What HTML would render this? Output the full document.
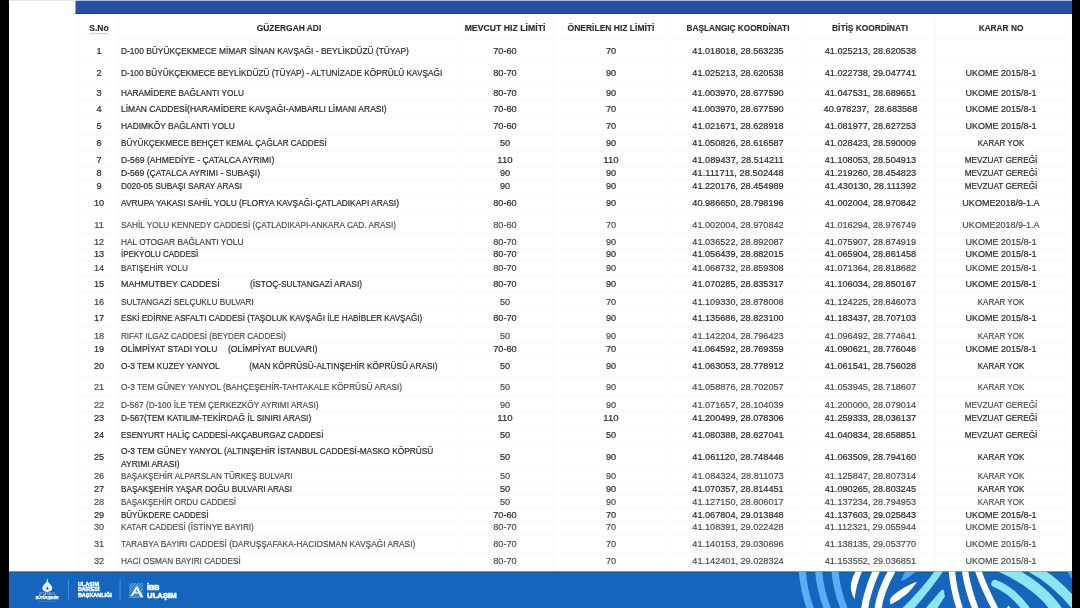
<!DOCTYPE html><html><head><meta charset="utf-8"><title>Hız Limitleri</title>
<style>html,body{margin:0;padding:0;background:#000;}body{width:1080px;height:608px;overflow:hidden;position:relative}
svg{position:absolute;left:0;top:0;display:block}
text{font-family:"Liberation Sans",sans-serif;}
.c{font-size:9.15px;fill:#2a2a2a;stroke:#2a2a2a;stroke-width:0.2px}
.l{fill:#4c4c4c;stroke:#4c4c4c;stroke-width:0.18px}
.d{fill:#3a3a3a;stroke:#3a3a3a;stroke-width:0.16px}
.h{font-size:9.15px;font-weight:bold;fill:#2e2e2e;stroke:#2e2e2e;stroke-width:0.15px}
.m{text-anchor:middle}
</style></head><body>
<svg width="1080" height="608" viewBox="0 0 1080 608">
<rect x="0" y="0" width="1080" height="608" fill="#000"/>
<rect x="9" y="0" width="1063" height="608" fill="#fff"/>
<rect x="9" y="0" width="67" height="1" fill="#e4e4e4"/>
<rect x="76" y="0" width="996" height="1" fill="#b4bcea"/>
<rect x="75.5" y="1" width="996.5" height="13" fill="#27519f"/>
<rect x="75.5" y="13" width="996.5" height="1" fill="#213f80"/>
<g stroke="#f8f9fb" stroke-width="1" fill="none">
<line x1="78.5" y1="14" x2="78.5" y2="571"/>
<line x1="118.5" y1="14" x2="118.5" y2="571"/>
<line x1="458.5" y1="14" x2="458.5" y2="571"/>
<line x1="553.5" y1="14" x2="553.5" y2="571"/>
<line x1="669.5" y1="14" x2="669.5" y2="571"/>
<line x1="805.5" y1="14" x2="805.5" y2="571"/>
<line x1="935.5" y1="14" x2="935.5" y2="571"/>
<line x1="1066.5" y1="14" x2="1066.5" y2="571"/>
<line x1="78" y1="39.5" x2="1067" y2="39.5"/>
<line x1="78" y1="61.5" x2="1067" y2="61.5"/>
<line x1="78" y1="82.5" x2="1067" y2="82.5"/>
<line x1="78" y1="100.5" x2="1067" y2="100.5"/>
<line x1="78" y1="117.5" x2="1067" y2="117.5"/>
<line x1="78" y1="134.5" x2="1067" y2="134.5"/>
<line x1="78" y1="151.5" x2="1067" y2="151.5"/>
<line x1="78" y1="166.5" x2="1067" y2="166.5"/>
<line x1="78" y1="179.5" x2="1067" y2="179.5"/>
<line x1="78" y1="194.5" x2="1067" y2="194.5"/>
<line x1="78" y1="213.5" x2="1067" y2="213.5"/>
<line x1="78" y1="233.5" x2="1067" y2="233.5"/>
<line x1="78" y1="248.5" x2="1067" y2="248.5"/>
<line x1="78" y1="260.5" x2="1067" y2="260.5"/>
<line x1="78" y1="275.5" x2="1067" y2="275.5"/>
<line x1="78" y1="292.5" x2="1067" y2="292.5"/>
<line x1="78" y1="309.5" x2="1067" y2="309.5"/>
<line x1="78" y1="327.5" x2="1067" y2="327.5"/>
<line x1="78" y1="342.5" x2="1067" y2="342.5"/>
<line x1="78" y1="357.5" x2="1067" y2="357.5"/>
<line x1="78" y1="376.5" x2="1067" y2="376.5"/>
<line x1="78" y1="395.5" x2="1067" y2="395.5"/>
<line x1="78" y1="411.5" x2="1067" y2="411.5"/>
<line x1="78" y1="426.5" x2="1067" y2="426.5"/>
<line x1="78" y1="445.5" x2="1067" y2="445.5"/>
<line x1="78" y1="466.5" x2="1067" y2="466.5"/>
<line x1="78" y1="482.5" x2="1067" y2="482.5"/>
<line x1="78" y1="495.5" x2="1067" y2="495.5"/>
<line x1="78" y1="508.5" x2="1067" y2="508.5"/>
<line x1="78" y1="520.5" x2="1067" y2="520.5"/>
<line x1="78" y1="535.5" x2="1067" y2="535.5"/>
<line x1="78" y1="552.5" x2="1067" y2="552.5"/>
</g>
<filter id="bl" x="-2%" y="-2%" width="104%" height="104%"><feGaussianBlur stdDeviation="0.5"/></filter>
<g filter="url(#bl)">
<text class="h m" x="99" y="31.25" textLength="19.48" lengthAdjust="spacingAndGlyphs" xml:space="preserve">S.No</text>
<text class="h m" x="289" y="31.25" textLength="64.46" lengthAdjust="spacingAndGlyphs" xml:space="preserve">GÜZERGAH ADI</text>
<text class="h m" x="505" y="31.25" textLength="80.74" lengthAdjust="spacingAndGlyphs" xml:space="preserve">MEVCUT HIZ LİMİTİ</text>
<text class="h m" x="611" y="31.25" textLength="86.85" lengthAdjust="spacingAndGlyphs" xml:space="preserve">ÖNERİLEN HIZ LİMİTİ</text>
<text class="h m" x="738" y="31.25" textLength="102.92" lengthAdjust="spacingAndGlyphs" xml:space="preserve">BAŞLANGIÇ KOORDİNATI</text>
<text class="h m" x="870" y="31.25" textLength="75.90" lengthAdjust="spacingAndGlyphs" xml:space="preserve">BİTİŞ KOORDİNATI</text>
<text class="h m" x="1001" y="31.25" textLength="44.69" lengthAdjust="spacingAndGlyphs" xml:space="preserve">KARAR NO</text>
<path d="M89.6 34.1 l1.2 -0.9 l1.2 0.9 l1.2 -0.9 l1.2 0.9 l1.2 -0.9 l1.2 0.9 l1.2 -0.9 l1.2 0.9 l1.2 -0.9 l1.2 0.9 l1.2 -0.9 l1.2 0.9 l1.2 -0.9 l1.2 0.9 l1.2 -0.9 l1.2 0.9" stroke="#dc8c94" stroke-width="0.7" fill="none"/>
<text class="c m" x="99" y="53.7" textLength="5.11" lengthAdjust="spacingAndGlyphs" xml:space="preserve">1</text>
<text class="c" x="121" y="53.7" textLength="287.90" lengthAdjust="spacingAndGlyphs" xml:space="preserve">D-100 BÜYÜKÇEKMECE MİMAR SİNAN KAVŞAĞI - BEYLİKDÜZÜ (TÜYAP)</text>
<text class="c m" x="505" y="53.7" textLength="23.46" lengthAdjust="spacingAndGlyphs" xml:space="preserve">70-60</text>
<text class="c m" x="611" y="53.7" textLength="10.19" lengthAdjust="spacingAndGlyphs" xml:space="preserve">70</text>
<text class="c m" x="738" y="53.7" textLength="91.36" lengthAdjust="spacingAndGlyphs" xml:space="preserve">41.018018, 28.563235</text>
<text class="c m" x="870.4" y="53.7" textLength="91.36" lengthAdjust="spacingAndGlyphs" xml:space="preserve">41.025213, 28.620538</text>
<text class="c m" x="99" y="75.85" textLength="5.11" lengthAdjust="spacingAndGlyphs" xml:space="preserve">2</text>
<text class="c" x="121" y="75.85" textLength="321.20" lengthAdjust="spacingAndGlyphs" xml:space="preserve">D-100 BÜYÜKÇEKMECE BEYLİKDÜZÜ (TÜYAP) - ALTUNİZADE KÖPRÜLÜ KAVŞAĞI</text>
<text class="c m" x="505" y="75.85" textLength="23.46" lengthAdjust="spacingAndGlyphs" xml:space="preserve">80-70</text>
<text class="c m" x="611" y="75.85" textLength="10.19" lengthAdjust="spacingAndGlyphs" xml:space="preserve">90</text>
<text class="c m" x="738" y="75.85" textLength="91.36" lengthAdjust="spacingAndGlyphs" xml:space="preserve">41.025213, 28.620538</text>
<text class="c m" x="870.4" y="75.85" textLength="91.36" lengthAdjust="spacingAndGlyphs" xml:space="preserve">41.022738, 29.047741</text>
<text class="c m" x="1001" y="75.85" textLength="71.15" lengthAdjust="spacingAndGlyphs" xml:space="preserve">UKOME 2015/8-1</text>
<text class="c m" x="99" y="95.55" textLength="5.11" lengthAdjust="spacingAndGlyphs" xml:space="preserve">3</text>
<text class="c" x="121" y="95.55" textLength="123.00" lengthAdjust="spacingAndGlyphs" xml:space="preserve">HARAMİDERE BAĞLANTI YOLU</text>
<text class="c m" x="505" y="95.55" textLength="23.46" lengthAdjust="spacingAndGlyphs" xml:space="preserve">80-70</text>
<text class="c m" x="611" y="95.55" textLength="10.19" lengthAdjust="spacingAndGlyphs" xml:space="preserve">90</text>
<text class="c m" x="738" y="95.55" textLength="91.36" lengthAdjust="spacingAndGlyphs" xml:space="preserve">41.003970, 28.677590</text>
<text class="c m" x="870.4" y="95.55" textLength="91.36" lengthAdjust="spacingAndGlyphs" xml:space="preserve">41.047531, 28.689651</text>
<text class="c m" x="1001" y="95.55" textLength="71.15" lengthAdjust="spacingAndGlyphs" xml:space="preserve">UKOME 2015/8-1</text>
<text class="c m" x="99" y="112.35" textLength="5.11" lengthAdjust="spacingAndGlyphs" xml:space="preserve">4</text>
<text class="c" x="121" y="112.35" textLength="265.70" lengthAdjust="spacingAndGlyphs" xml:space="preserve">LİMAN CADDESİ(HARAMİDERE KAVŞAĞI-AMBARLI LİMANI ARASI)</text>
<text class="c m" x="505" y="112.35" textLength="23.46" lengthAdjust="spacingAndGlyphs" xml:space="preserve">70-60</text>
<text class="c m" x="611" y="112.35" textLength="10.19" lengthAdjust="spacingAndGlyphs" xml:space="preserve">70</text>
<text class="c m" x="738" y="112.35" textLength="91.36" lengthAdjust="spacingAndGlyphs" xml:space="preserve">41.003970, 28.677590</text>
<text class="c m" x="870.4" y="112.35" textLength="93.64" lengthAdjust="spacingAndGlyphs" xml:space="preserve">40.978237,  28.683568</text>
<text class="c m" x="1001" y="112.35" textLength="71.15" lengthAdjust="spacingAndGlyphs" xml:space="preserve">UKOME 2015/8-1</text>
<text class="c m" x="99" y="129.35" textLength="5.11" lengthAdjust="spacingAndGlyphs" xml:space="preserve">5</text>
<text class="c" x="121" y="129.35" textLength="113.80" lengthAdjust="spacingAndGlyphs" xml:space="preserve">HADIMKÖY BAĞLANTI YOLU</text>
<text class="c m" x="505" y="129.35" textLength="23.46" lengthAdjust="spacingAndGlyphs" xml:space="preserve">70-60</text>
<text class="c m" x="611" y="129.35" textLength="10.19" lengthAdjust="spacingAndGlyphs" xml:space="preserve">70</text>
<text class="c m" x="738" y="129.35" textLength="91.36" lengthAdjust="spacingAndGlyphs" xml:space="preserve">41.021671, 28.628918</text>
<text class="c m" x="870.4" y="129.35" textLength="91.36" lengthAdjust="spacingAndGlyphs" xml:space="preserve">41.081977, 28.627253</text>
<text class="c m" x="1001" y="129.35" textLength="71.15" lengthAdjust="spacingAndGlyphs" xml:space="preserve">UKOME 2015/8-1</text>
<text class="c m" x="99" y="146.15" textLength="5.11" lengthAdjust="spacingAndGlyphs" xml:space="preserve">6</text>
<text class="c" x="121" y="146.15" textLength="205.70" lengthAdjust="spacingAndGlyphs" xml:space="preserve">BÜYÜKÇEKMECE BEHÇET KEMAL ÇAĞLAR CADDESİ</text>
<text class="c m" x="505" y="146.15" textLength="10.19" lengthAdjust="spacingAndGlyphs" xml:space="preserve">50</text>
<text class="c m" x="611" y="146.15" textLength="10.19" lengthAdjust="spacingAndGlyphs" xml:space="preserve">90</text>
<text class="c m" x="738" y="146.15" textLength="91.36" lengthAdjust="spacingAndGlyphs" xml:space="preserve">41.050826, 28.616587</text>
<text class="c m" x="870.4" y="146.15" textLength="91.36" lengthAdjust="spacingAndGlyphs" xml:space="preserve">41.028423, 28.590009</text>
<text class="c m" x="1001" y="146.15" textLength="46.50" lengthAdjust="spacingAndGlyphs" xml:space="preserve">KARAR YOK</text>
<text class="c m" x="99" y="162.95" textLength="5.11" lengthAdjust="spacingAndGlyphs" xml:space="preserve">7</text>
<text class="c" x="121" y="162.95" textLength="153.30" lengthAdjust="spacingAndGlyphs" xml:space="preserve">D-569 (AHMEDİYE - ÇATALCA AYRIMI)</text>
<text class="c m" x="505" y="162.95" textLength="15.30" lengthAdjust="spacingAndGlyphs" xml:space="preserve">110</text>
<text class="c m" x="611" y="162.95" textLength="15.30" lengthAdjust="spacingAndGlyphs" xml:space="preserve">110</text>
<text class="c m" x="738" y="162.95" textLength="91.36" lengthAdjust="spacingAndGlyphs" xml:space="preserve">41.089437, 28.514211</text>
<text class="c m" x="870.4" y="162.95" textLength="91.36" lengthAdjust="spacingAndGlyphs" xml:space="preserve">41.108053, 28.504913</text>
<text class="c m" x="1001" y="162.95" textLength="72.70" lengthAdjust="spacingAndGlyphs" xml:space="preserve">MEVZUAT GEREĞİ</text>
<text class="c m" x="99" y="175.85" textLength="5.11" lengthAdjust="spacingAndGlyphs" xml:space="preserve">8</text>
<text class="c" x="121" y="175.85" textLength="139.00" lengthAdjust="spacingAndGlyphs" xml:space="preserve">D-569 (ÇATALCA AYRIMI - SUBAŞI)</text>
<text class="c m" x="505" y="175.85" textLength="10.19" lengthAdjust="spacingAndGlyphs" xml:space="preserve">90</text>
<text class="c m" x="611" y="175.85" textLength="10.19" lengthAdjust="spacingAndGlyphs" xml:space="preserve">90</text>
<text class="c m" x="738" y="175.85" textLength="91.36" lengthAdjust="spacingAndGlyphs" xml:space="preserve">41.111711, 28.502448</text>
<text class="c m" x="870.4" y="175.85" textLength="91.36" lengthAdjust="spacingAndGlyphs" xml:space="preserve">41.219260, 28.454823</text>
<text class="c m" x="1001" y="175.85" textLength="72.70" lengthAdjust="spacingAndGlyphs" xml:space="preserve">MEVZUAT GEREĞİ</text>
<text class="c m" x="99" y="188.65" textLength="5.11" lengthAdjust="spacingAndGlyphs" xml:space="preserve">9</text>
<text class="c" x="121" y="188.65" textLength="121.00" lengthAdjust="spacingAndGlyphs" xml:space="preserve">D020-05 SUBAŞI SARAY ARASI</text>
<text class="c m" x="505" y="188.65" textLength="10.19" lengthAdjust="spacingAndGlyphs" xml:space="preserve">90</text>
<text class="c m" x="611" y="188.65" textLength="10.19" lengthAdjust="spacingAndGlyphs" xml:space="preserve">90</text>
<text class="c m" x="738" y="188.65" textLength="91.36" lengthAdjust="spacingAndGlyphs" xml:space="preserve">41.220176, 28.454989</text>
<text class="c m" x="870.4" y="188.65" textLength="91.36" lengthAdjust="spacingAndGlyphs" xml:space="preserve">41.430130, 28.111392</text>
<text class="c m" x="1001" y="188.65" textLength="72.70" lengthAdjust="spacingAndGlyphs" xml:space="preserve">MEVZUAT GEREĞİ</text>
<text class="c m" x="99" y="205.6" textLength="10.19" lengthAdjust="spacingAndGlyphs" xml:space="preserve">10</text>
<text class="c" x="121" y="205.6" textLength="278.00" lengthAdjust="spacingAndGlyphs" xml:space="preserve">AVRUPA YAKASI SAHİL YOLU (FLORYA KAVŞAĞI-ÇATLADIKAPI ARASI)</text>
<text class="c m" x="505" y="205.6" textLength="23.46" lengthAdjust="spacingAndGlyphs" xml:space="preserve">80-60</text>
<text class="c m" x="611" y="205.6" textLength="10.19" lengthAdjust="spacingAndGlyphs" xml:space="preserve">90</text>
<text class="c m" x="738" y="205.6" textLength="91.36" lengthAdjust="spacingAndGlyphs" xml:space="preserve">40.986650, 28.798196</text>
<text class="c m" x="870.4" y="205.6" textLength="91.36" lengthAdjust="spacingAndGlyphs" xml:space="preserve">41.002004, 28.970842</text>
<text class="c m" x="1001" y="205.6" textLength="77.29" lengthAdjust="spacingAndGlyphs" xml:space="preserve">UKOME2018/9-1.A</text>
<text class="c m l" x="99" y="228.25" textLength="10.19" lengthAdjust="spacingAndGlyphs" xml:space="preserve">11</text>
<text class="c l" x="121" y="228.25" textLength="275.00" lengthAdjust="spacingAndGlyphs" xml:space="preserve">SAHİL YOLU KENNEDY CADDESİ (ÇATLADIKAPI-ANKARA CAD. ARASI)</text>
<text class="c m l" x="505" y="228.25" textLength="23.46" lengthAdjust="spacingAndGlyphs" xml:space="preserve">80-60</text>
<text class="c m l" x="611" y="228.25" textLength="10.19" lengthAdjust="spacingAndGlyphs" xml:space="preserve">70</text>
<text class="c m l" x="738" y="228.25" textLength="91.36" lengthAdjust="spacingAndGlyphs" xml:space="preserve">41.002004, 28.970842</text>
<text class="c m l" x="870.4" y="228.25" textLength="91.36" lengthAdjust="spacingAndGlyphs" xml:space="preserve">41.016294, 28.976749</text>
<text class="c m l" x="1001" y="228.25" textLength="77.29" lengthAdjust="spacingAndGlyphs" xml:space="preserve">UKOME2018/9-1.A</text>
<text class="c m d" x="99" y="244.81" textLength="10.19" lengthAdjust="spacingAndGlyphs" xml:space="preserve">12</text>
<text class="c d" x="121" y="244.81" textLength="122.40" lengthAdjust="spacingAndGlyphs" xml:space="preserve">HAL OTOGAR BAĞLANTI YOLU</text>
<text class="c m d" x="505" y="244.81" textLength="23.46" lengthAdjust="spacingAndGlyphs" xml:space="preserve">80-70</text>
<text class="c m d" x="611" y="244.81" textLength="10.19" lengthAdjust="spacingAndGlyphs" xml:space="preserve">90</text>
<text class="c m d" x="738" y="244.81" textLength="91.36" lengthAdjust="spacingAndGlyphs" xml:space="preserve">41.036522, 28.892087</text>
<text class="c m d" x="870.4" y="244.81" textLength="91.36" lengthAdjust="spacingAndGlyphs" xml:space="preserve">41.075907, 28.874919</text>
<text class="c m d" x="1001" y="244.81" textLength="71.15" lengthAdjust="spacingAndGlyphs" xml:space="preserve">UKOME 2015/8-1</text>
<text class="c m" x="99" y="257.45" textLength="10.19" lengthAdjust="spacingAndGlyphs" xml:space="preserve">13</text>
<text class="c" x="121" y="257.45" textLength="77.20" lengthAdjust="spacingAndGlyphs" xml:space="preserve">İPEKYOLU CADDESİ</text>
<text class="c m" x="505" y="257.45" textLength="23.46" lengthAdjust="spacingAndGlyphs" xml:space="preserve">80-70</text>
<text class="c m" x="611" y="257.45" textLength="10.19" lengthAdjust="spacingAndGlyphs" xml:space="preserve">90</text>
<text class="c m" x="738" y="257.45" textLength="91.36" lengthAdjust="spacingAndGlyphs" xml:space="preserve">41.056439, 28.882015</text>
<text class="c m" x="870.4" y="257.45" textLength="91.36" lengthAdjust="spacingAndGlyphs" xml:space="preserve">41.065904, 28.861458</text>
<text class="c m" x="1001" y="257.45" textLength="71.15" lengthAdjust="spacingAndGlyphs" xml:space="preserve">UKOME 2015/8-1</text>
<text class="c m d" x="99" y="270.65" textLength="10.19" lengthAdjust="spacingAndGlyphs" xml:space="preserve">14</text>
<text class="c d" x="121" y="270.65" textLength="66.90" lengthAdjust="spacingAndGlyphs" xml:space="preserve">BATIŞEHİR YOLU</text>
<text class="c m d" x="505" y="270.65" textLength="23.46" lengthAdjust="spacingAndGlyphs" xml:space="preserve">80-70</text>
<text class="c m d" x="611" y="270.65" textLength="10.19" lengthAdjust="spacingAndGlyphs" xml:space="preserve">90</text>
<text class="c m d" x="738" y="270.65" textLength="91.36" lengthAdjust="spacingAndGlyphs" xml:space="preserve">41.068732, 28.859308</text>
<text class="c m d" x="870.4" y="270.65" textLength="91.36" lengthAdjust="spacingAndGlyphs" xml:space="preserve">41.071364, 28.818682</text>
<text class="c m d" x="1001" y="270.65" textLength="71.15" lengthAdjust="spacingAndGlyphs" xml:space="preserve">UKOME 2015/8-1</text>
<text class="c m" x="99" y="287.45" textLength="10.19" lengthAdjust="spacingAndGlyphs" xml:space="preserve">15</text>
<text class="c" x="121" y="287.45" textLength="98.70" lengthAdjust="spacingAndGlyphs" xml:space="preserve">MAHMUTBEY CADDESİ</text>
<text class="c" x="250" y="287.45" textLength="112.00" lengthAdjust="spacingAndGlyphs" xml:space="preserve">(İSTOÇ-SULTANGAZİ ARASI)</text>
<text class="c m" x="505" y="287.45" textLength="23.46" lengthAdjust="spacingAndGlyphs" xml:space="preserve">80-70</text>
<text class="c m" x="611" y="287.45" textLength="10.19" lengthAdjust="spacingAndGlyphs" xml:space="preserve">90</text>
<text class="c m" x="738" y="287.45" textLength="91.36" lengthAdjust="spacingAndGlyphs" xml:space="preserve">41.070285, 28.835317</text>
<text class="c m" x="870.4" y="287.45" textLength="91.36" lengthAdjust="spacingAndGlyphs" xml:space="preserve">41.106034, 28.850167</text>
<text class="c m" x="1001" y="287.45" textLength="71.15" lengthAdjust="spacingAndGlyphs" xml:space="preserve">UKOME 2015/8-1</text>
<text class="c m d" x="99" y="304.55" textLength="10.19" lengthAdjust="spacingAndGlyphs" xml:space="preserve">16</text>
<text class="c d" x="121" y="304.55" textLength="132.80" lengthAdjust="spacingAndGlyphs" xml:space="preserve">SULTANGAZİ SELÇUKLU BULVARI</text>
<text class="c m d" x="505" y="304.55" textLength="10.19" lengthAdjust="spacingAndGlyphs" xml:space="preserve">50</text>
<text class="c m d" x="611" y="304.55" textLength="10.19" lengthAdjust="spacingAndGlyphs" xml:space="preserve">70</text>
<text class="c m d" x="738" y="304.55" textLength="91.36" lengthAdjust="spacingAndGlyphs" xml:space="preserve">41.109330, 28.878008</text>
<text class="c m d" x="870.4" y="304.55" textLength="91.36" lengthAdjust="spacingAndGlyphs" xml:space="preserve">41.124225, 28.846073</text>
<text class="c m d" x="1001" y="304.55" textLength="46.50" lengthAdjust="spacingAndGlyphs" xml:space="preserve">KARAR YOK</text>
<text class="c m" x="99" y="321.35" textLength="10.19" lengthAdjust="spacingAndGlyphs" xml:space="preserve">17</text>
<text class="c" x="121" y="321.35" textLength="301.30" lengthAdjust="spacingAndGlyphs" xml:space="preserve">ESKİ EDİRNE ASFALTI CADDESİ (TAŞOLUK KAVŞAĞI İLE HABİBLER KAVŞAĞI)</text>
<text class="c m" x="505" y="321.35" textLength="23.46" lengthAdjust="spacingAndGlyphs" xml:space="preserve">80-70</text>
<text class="c m" x="611" y="321.35" textLength="10.19" lengthAdjust="spacingAndGlyphs" xml:space="preserve">90</text>
<text class="c m" x="738" y="321.35" textLength="91.36" lengthAdjust="spacingAndGlyphs" xml:space="preserve">41.135686, 28.823100</text>
<text class="c m" x="870.4" y="321.35" textLength="91.36" lengthAdjust="spacingAndGlyphs" xml:space="preserve">41.183437, 28.707103</text>
<text class="c m" x="1001" y="321.35" textLength="71.15" lengthAdjust="spacingAndGlyphs" xml:space="preserve">UKOME 2015/8-1</text>
<text class="c m l" x="99" y="339.15" textLength="10.19" lengthAdjust="spacingAndGlyphs" xml:space="preserve">18</text>
<text class="c l" x="121" y="339.15" textLength="165.00" lengthAdjust="spacingAndGlyphs" xml:space="preserve">RIFAT ILGAZ CADDESİ (BEYDER CADDESİ)</text>
<text class="c m l" x="505" y="339.15" textLength="10.19" lengthAdjust="spacingAndGlyphs" xml:space="preserve">50</text>
<text class="c m l" x="611" y="339.15" textLength="10.19" lengthAdjust="spacingAndGlyphs" xml:space="preserve">90</text>
<text class="c m l" x="738" y="339.15" textLength="91.36" lengthAdjust="spacingAndGlyphs" xml:space="preserve">41.142204, 28.796423</text>
<text class="c m l" x="870.4" y="339.15" textLength="91.36" lengthAdjust="spacingAndGlyphs" xml:space="preserve">41.096492, 28.774641</text>
<text class="c m l" x="1001" y="339.15" textLength="46.50" lengthAdjust="spacingAndGlyphs" xml:space="preserve">KARAR YOK</text>
<text class="c m" x="99" y="351.85" textLength="10.19" lengthAdjust="spacingAndGlyphs" xml:space="preserve">19</text>
<text class="c" x="121" y="351.85" textLength="96.50" lengthAdjust="spacingAndGlyphs" xml:space="preserve">OLİMPİYAT STADI YOLU</text>
<text class="c" x="227.9" y="351.85" textLength="89.60" lengthAdjust="spacingAndGlyphs" xml:space="preserve">(OLİMPİYAT BULVARI)</text>
<text class="c m" x="505" y="351.85" textLength="23.46" lengthAdjust="spacingAndGlyphs" xml:space="preserve">70-60</text>
<text class="c m" x="611" y="351.85" textLength="10.19" lengthAdjust="spacingAndGlyphs" xml:space="preserve">70</text>
<text class="c m" x="738" y="351.85" textLength="91.36" lengthAdjust="spacingAndGlyphs" xml:space="preserve">41.064592, 28.769359</text>
<text class="c m" x="870.4" y="351.85" textLength="91.36" lengthAdjust="spacingAndGlyphs" xml:space="preserve">41.090621, 28.776046</text>
<text class="c m" x="1001" y="351.85" textLength="71.15" lengthAdjust="spacingAndGlyphs" xml:space="preserve">UKOME 2015/8-1</text>
<text class="c m" x="99" y="368.65" textLength="10.19" lengthAdjust="spacingAndGlyphs" xml:space="preserve">20</text>
<text class="c" x="121" y="368.65" textLength="98.70" lengthAdjust="spacingAndGlyphs" xml:space="preserve">O-3 TEM KUZEY YANYOL</text>
<text class="c" x="249.3" y="368.65" textLength="188.20" lengthAdjust="spacingAndGlyphs" xml:space="preserve">(MAN KÖPRÜSÜ-ALTINŞEHİR KÖPRÜSÜ ARASI)</text>
<text class="c m" x="505" y="368.65" textLength="10.19" lengthAdjust="spacingAndGlyphs" xml:space="preserve">50</text>
<text class="c m" x="611" y="368.65" textLength="10.19" lengthAdjust="spacingAndGlyphs" xml:space="preserve">90</text>
<text class="c m" x="738" y="368.65" textLength="91.36" lengthAdjust="spacingAndGlyphs" xml:space="preserve">41.063053, 28.778912</text>
<text class="c m" x="870.4" y="368.65" textLength="91.36" lengthAdjust="spacingAndGlyphs" xml:space="preserve">41.061541, 28.756028</text>
<text class="c m" x="1001" y="368.65" textLength="46.50" lengthAdjust="spacingAndGlyphs" xml:space="preserve">KARAR YOK</text>
<text class="c m l" x="99" y="390.25" textLength="10.19" lengthAdjust="spacingAndGlyphs" xml:space="preserve">21</text>
<text class="c l" x="121" y="390.25" textLength="281.00" lengthAdjust="spacingAndGlyphs" xml:space="preserve">O-3 TEM GÜNEY YANYOL (BAHÇEŞEHİR-TAHTAKALE KÖPRÜSÜ ARASI)</text>
<text class="c m l" x="505" y="390.25" textLength="10.19" lengthAdjust="spacingAndGlyphs" xml:space="preserve">50</text>
<text class="c m l" x="611" y="390.25" textLength="10.19" lengthAdjust="spacingAndGlyphs" xml:space="preserve">90</text>
<text class="c m l" x="738" y="390.25" textLength="91.36" lengthAdjust="spacingAndGlyphs" xml:space="preserve">41.058876, 28.702057</text>
<text class="c m l" x="870.4" y="390.25" textLength="91.36" lengthAdjust="spacingAndGlyphs" xml:space="preserve">41.053945, 28.718607</text>
<text class="c m l" x="1001" y="390.25" textLength="46.50" lengthAdjust="spacingAndGlyphs" xml:space="preserve">KARAR YOK</text>
<text class="c m l" x="99" y="407.85" textLength="10.19" lengthAdjust="spacingAndGlyphs" xml:space="preserve">22</text>
<text class="c l" x="121" y="407.85" textLength="197.60" lengthAdjust="spacingAndGlyphs" xml:space="preserve">D-567 (D-100 İLE TEM ÇERKEZKÖY AYRIMI ARASI)</text>
<text class="c m l" x="505" y="407.85" textLength="10.19" lengthAdjust="spacingAndGlyphs" xml:space="preserve">90</text>
<text class="c m l" x="611" y="407.85" textLength="10.19" lengthAdjust="spacingAndGlyphs" xml:space="preserve">90</text>
<text class="c m l" x="738" y="407.85" textLength="91.36" lengthAdjust="spacingAndGlyphs" xml:space="preserve">41.071657, 28.104039</text>
<text class="c m l" x="870.4" y="407.85" textLength="91.36" lengthAdjust="spacingAndGlyphs" xml:space="preserve">41.200000, 28.079014</text>
<text class="c m l" x="1001" y="407.85" textLength="72.70" lengthAdjust="spacingAndGlyphs" xml:space="preserve">MEVZUAT GEREĞİ</text>
<text class="c m" x="99" y="420.75" textLength="10.19" lengthAdjust="spacingAndGlyphs" xml:space="preserve">23</text>
<text class="c" x="121" y="420.75" textLength="190.20" lengthAdjust="spacingAndGlyphs" xml:space="preserve">D-567(TEM KATILIM-TEKİRDAĞ İL SINIRI ARASI)</text>
<text class="c m" x="505" y="420.75" textLength="15.30" lengthAdjust="spacingAndGlyphs" xml:space="preserve">110</text>
<text class="c m" x="611" y="420.75" textLength="15.30" lengthAdjust="spacingAndGlyphs" xml:space="preserve">110</text>
<text class="c m" x="738" y="420.75" textLength="91.36" lengthAdjust="spacingAndGlyphs" xml:space="preserve">41.200499, 28.078306</text>
<text class="c m" x="870.4" y="420.75" textLength="91.36" lengthAdjust="spacingAndGlyphs" xml:space="preserve">41.259333, 28.036137</text>
<text class="c m" x="1001" y="420.75" textLength="72.70" lengthAdjust="spacingAndGlyphs" xml:space="preserve">MEVZUAT GEREĞİ</text>
<text class="c m" x="99" y="437.55" textLength="10.19" lengthAdjust="spacingAndGlyphs" xml:space="preserve">24</text>
<text class="c" x="121" y="437.55" textLength="202.40" lengthAdjust="spacingAndGlyphs" xml:space="preserve">ESENYURT HALİÇ CADDESİ-AKÇABURGAZ CADDESİ</text>
<text class="c m" x="505" y="437.55" textLength="10.19" lengthAdjust="spacingAndGlyphs" xml:space="preserve">50</text>
<text class="c m" x="611" y="437.55" textLength="10.19" lengthAdjust="spacingAndGlyphs" xml:space="preserve">50</text>
<text class="c m" x="738" y="437.55" textLength="91.36" lengthAdjust="spacingAndGlyphs" xml:space="preserve">41.080388, 28.627041</text>
<text class="c m" x="870.4" y="437.55" textLength="91.36" lengthAdjust="spacingAndGlyphs" xml:space="preserve">41.040834, 28.658851</text>
<text class="c m" x="1001" y="437.55" textLength="72.70" lengthAdjust="spacingAndGlyphs" xml:space="preserve">MEVZUAT GEREĞİ</text>
<text class="c m" x="99" y="460.15" textLength="10.19" lengthAdjust="spacingAndGlyphs" xml:space="preserve">25</text>
<text class="c" x="121" y="454.34999999999997" textLength="312.40" lengthAdjust="spacingAndGlyphs" xml:space="preserve">O-3 TEM GÜNEY YANYOL (ALTINŞEHİR İSTANBUL CADDESİ-MASKO KÖPRÜSÜ</text>
<text class="c" x="121" y="466.75" textLength="58.70" lengthAdjust="spacingAndGlyphs" xml:space="preserve">AYRIMI ARASI)</text>
<text class="c m" x="505" y="460.15" textLength="10.19" lengthAdjust="spacingAndGlyphs" xml:space="preserve">50</text>
<text class="c m" x="611" y="460.15" textLength="10.19" lengthAdjust="spacingAndGlyphs" xml:space="preserve">90</text>
<text class="c m" x="738" y="460.15" textLength="91.36" lengthAdjust="spacingAndGlyphs" xml:space="preserve">41.061120, 28.748446</text>
<text class="c m" x="870.4" y="460.15" textLength="91.36" lengthAdjust="spacingAndGlyphs" xml:space="preserve">41.063509, 28.794160</text>
<text class="c m" x="1001" y="460.15" textLength="46.50" lengthAdjust="spacingAndGlyphs" xml:space="preserve">KARAR YOK</text>
<text class="c m l" x="99" y="478.85" textLength="10.19" lengthAdjust="spacingAndGlyphs" xml:space="preserve">26</text>
<text class="c l" x="121" y="478.85" textLength="171.70" lengthAdjust="spacingAndGlyphs" xml:space="preserve">BAŞAKŞEHİR ALPARSLAN TÜRKEŞ BULVARI</text>
<text class="c m l" x="505" y="478.85" textLength="10.19" lengthAdjust="spacingAndGlyphs" xml:space="preserve">50</text>
<text class="c m l" x="611" y="478.85" textLength="10.19" lengthAdjust="spacingAndGlyphs" xml:space="preserve">90</text>
<text class="c m l" x="738" y="478.85" textLength="91.36" lengthAdjust="spacingAndGlyphs" xml:space="preserve">41.084324, 28.811073</text>
<text class="c m l" x="870.4" y="478.85" textLength="91.36" lengthAdjust="spacingAndGlyphs" xml:space="preserve">41.125847, 28.807314</text>
<text class="c m l" x="1001" y="478.85" textLength="46.50" lengthAdjust="spacingAndGlyphs" xml:space="preserve">KARAR YOK</text>
<text class="c m" x="99" y="491.75" textLength="10.19" lengthAdjust="spacingAndGlyphs" xml:space="preserve">27</text>
<text class="c" x="121" y="491.75" textLength="171.00" lengthAdjust="spacingAndGlyphs" xml:space="preserve">BAŞAKŞEHİR YAŞAR DOĞU BULVARI ARASI</text>
<text class="c m" x="505" y="491.75" textLength="10.19" lengthAdjust="spacingAndGlyphs" xml:space="preserve">50</text>
<text class="c m" x="611" y="491.75" textLength="10.19" lengthAdjust="spacingAndGlyphs" xml:space="preserve">90</text>
<text class="c m" x="738" y="491.75" textLength="91.36" lengthAdjust="spacingAndGlyphs" xml:space="preserve">41.070357, 28.814451</text>
<text class="c m" x="870.4" y="491.75" textLength="91.36" lengthAdjust="spacingAndGlyphs" xml:space="preserve">41.090265, 28.803245</text>
<text class="c m" x="1001" y="491.75" textLength="46.50" lengthAdjust="spacingAndGlyphs" xml:space="preserve">KARAR YOK</text>
<text class="c m l" x="99" y="504.55" textLength="10.19" lengthAdjust="spacingAndGlyphs" xml:space="preserve">28</text>
<text class="c l" x="121" y="504.55" textLength="115.00" lengthAdjust="spacingAndGlyphs" xml:space="preserve">BAŞAKŞEHİR ORDU CADDESİ</text>
<text class="c m l" x="505" y="504.55" textLength="10.19" lengthAdjust="spacingAndGlyphs" xml:space="preserve">50</text>
<text class="c m l" x="611" y="504.55" textLength="10.19" lengthAdjust="spacingAndGlyphs" xml:space="preserve">90</text>
<text class="c m l" x="738" y="504.55" textLength="91.36" lengthAdjust="spacingAndGlyphs" xml:space="preserve">41.127150, 28.806017</text>
<text class="c m l" x="870.4" y="504.55" textLength="91.36" lengthAdjust="spacingAndGlyphs" xml:space="preserve">41.137234, 28.794953</text>
<text class="c m l" x="1001" y="504.55" textLength="46.50" lengthAdjust="spacingAndGlyphs" xml:space="preserve">KARAR YOK</text>
<text class="c m" x="99" y="517.7" textLength="10.19" lengthAdjust="spacingAndGlyphs" xml:space="preserve">29</text>
<text class="c" x="121" y="517.7" textLength="87.60" lengthAdjust="spacingAndGlyphs" xml:space="preserve">BÜYÜKDERE CADDESİ</text>
<text class="c m" x="505" y="517.7" textLength="23.46" lengthAdjust="spacingAndGlyphs" xml:space="preserve">70-60</text>
<text class="c m" x="611" y="517.7" textLength="10.19" lengthAdjust="spacingAndGlyphs" xml:space="preserve">70</text>
<text class="c m" x="738" y="517.7" textLength="91.36" lengthAdjust="spacingAndGlyphs" xml:space="preserve">41.067804, 29.013848</text>
<text class="c m" x="870.4" y="517.7" textLength="91.36" lengthAdjust="spacingAndGlyphs" xml:space="preserve">41.137603, 29.025843</text>
<text class="c m" x="1001" y="517.7" textLength="71.15" lengthAdjust="spacingAndGlyphs" xml:space="preserve">UKOME 2015/8-1</text>
<text class="c m l" x="99" y="530.35" textLength="10.19" lengthAdjust="spacingAndGlyphs" xml:space="preserve">30</text>
<text class="c l" x="121" y="530.35" textLength="132.80" lengthAdjust="spacingAndGlyphs" xml:space="preserve">KATAR CADDESİ (İSTİNYE BAYIRI)</text>
<text class="c m l" x="505" y="530.35" textLength="23.46" lengthAdjust="spacingAndGlyphs" xml:space="preserve">80-70</text>
<text class="c m l" x="611" y="530.35" textLength="10.19" lengthAdjust="spacingAndGlyphs" xml:space="preserve">70</text>
<text class="c m l" x="738" y="530.35" textLength="91.36" lengthAdjust="spacingAndGlyphs" xml:space="preserve">41.108391, 29.022428</text>
<text class="c m l" x="870.4" y="530.35" textLength="91.36" lengthAdjust="spacingAndGlyphs" xml:space="preserve">41.112321, 29.055944</text>
<text class="c m l" x="1001" y="530.35" textLength="71.15" lengthAdjust="spacingAndGlyphs" xml:space="preserve">UKOME 2015/8-1</text>
<text class="c m l" x="99" y="547.35" textLength="10.19" lengthAdjust="spacingAndGlyphs" xml:space="preserve">31</text>
<text class="c l" x="121" y="547.35" textLength="294.30" lengthAdjust="spacingAndGlyphs" xml:space="preserve">TARABYA BAYIRI CADDESİ (DARUŞŞAFAKA-HACIOSMAN KAVŞAĞI ARASI)</text>
<text class="c m l" x="505" y="547.35" textLength="23.46" lengthAdjust="spacingAndGlyphs" xml:space="preserve">80-70</text>
<text class="c m l" x="611" y="547.35" textLength="10.19" lengthAdjust="spacingAndGlyphs" xml:space="preserve">70</text>
<text class="c m l" x="738" y="547.35" textLength="91.36" lengthAdjust="spacingAndGlyphs" xml:space="preserve">41.140153, 29.030696</text>
<text class="c m l" x="870.4" y="547.35" textLength="91.36" lengthAdjust="spacingAndGlyphs" xml:space="preserve">41.138135, 29.053770</text>
<text class="c m l" x="1001" y="547.35" textLength="71.15" lengthAdjust="spacingAndGlyphs" xml:space="preserve">UKOME 2015/8-1</text>
<text class="c m l" x="99" y="564.35" textLength="10.19" lengthAdjust="spacingAndGlyphs" xml:space="preserve">32</text>
<text class="c l" x="121" y="564.35" textLength="119.80" lengthAdjust="spacingAndGlyphs" xml:space="preserve">HACI OSMAN BAYIRI CADDESİ</text>
<text class="c m l" x="505" y="564.35" textLength="23.46" lengthAdjust="spacingAndGlyphs" xml:space="preserve">80-70</text>
<text class="c m l" x="611" y="564.35" textLength="10.19" lengthAdjust="spacingAndGlyphs" xml:space="preserve">70</text>
<text class="c m l" x="738" y="564.35" textLength="91.36" lengthAdjust="spacingAndGlyphs" xml:space="preserve">41.142401, 29.028324</text>
<text class="c m l" x="870.4" y="564.35" textLength="91.36" lengthAdjust="spacingAndGlyphs" xml:space="preserve">41.153552, 29.036851</text>
<text class="c m l" x="1001" y="564.35" textLength="71.15" lengthAdjust="spacingAndGlyphs" xml:space="preserve">UKOME 2015/8-1</text>
</g>
<g id="footer">
<rect x="9" y="571.6" width="1063" height="36.4" fill="#1565bc"/>
<rect x="9" y="571.6" width="1063" height="1.2" fill="#21598f"/>
<clipPath id="fc"><rect x="9" y="571.5" width="1063" height="36.5"/></clipPath>
<filter id="bl2" x="-2%" y="-10%" width="104%" height="120%"><feGaussianBlur stdDeviation="0.45"/></filter>
<g clip-path="url(#fc)" fill="none"><g filter="url(#bl2)">
 <g stroke="#5aaef8" stroke-width="7">
  <path d="M802.2 570 Q803.5 590 810.5 609"/>
  <path d="M818.5 570 Q820 590 827.4 609"/>
  <path d="M834.8 570 Q836.5 590 844.3 609"/>
 </g>
 <path d="M855.6 571 Q849.6 583 851 590 Q852 595 854.6 599.2 Q856 585 862.2 571 Z" fill="#fff"/>
 <g stroke="#fff" stroke-width="7">
  <path d="M876.6 570 Q866.8 592 864.6 609"/>
  <path d="M892.3 570 Q880 592 878 609"/>
 </g>
 <path d="M917 581.8 Q903.5 586.5 892.5 596 Q889.8 598.8 889.8 601.5 L890.6 604.6 Q899.5 600.2 907.6 593.2 Q913.5 587.5 917 581.8 Z" fill="#fff"/>
 <path d="M905 571.5 L916 571.5 Q909 577.5 902.2 581 L901.2 579.8 Z" fill="#4fa4f5"/>
 <path d="M934.8 571 L943.4 571 Q931 589 913.7 609 L901.5 609 Q921 590 934.8 571 Z" fill="#8fe3f3"/>
 <path d="M941.2 590.2 Q943 589 944 590.5 L944.8 596.5 Q942 601 936.9 609 L925 609 Z" fill="#8fe3f3"/>
 <g stroke="#fff" stroke-width="6.4">
  <path d="M951.7 570 Q953.5 590 959.8 609"/>
  <path d="M964.8 570 Q968 590 975.5 609"/>
  <path d="M978 570 Q984 588 995.2 609"/>
 </g>
 <g stroke="#8fe3f3">
  <path d="M995 583.5 Q1012 590 1026 609" stroke-width="7.5" stroke-linecap="round"/>
  <path d="M1001 567 Q1040 585 1057.5 611" stroke-width="10.5"/>
  <path d="M1030 567 Q1056 581 1076 606" stroke-width="9.5"/>
 </g>
 <path d="M1067 571.5 L1072 571.5 L1072 579 Z" fill="#4fa4f5"/>
 <path d="M1007 608 L1008.5 605.5 L1010.5 608 Z" fill="#fff"/>
</g></g>
<g filter="url(#bl2)">
<!-- left logos -->
<path d="M47.3 578 L48 581.5 Q48.8 583 50.5 584.5 Q52.4 586.5 52.2 588.6 Q51.8 591.8 47.3 592 Q42.8 591.8 42.4 588.6 Q42.2 586.5 44.1 584.5 Q45.8 583 46.6 581.5 Z" fill="#e8f1fb"/>
<path d="M47.3 586 L48.6 589.6 L46 589.6 Z" fill="#1565bc"/>
<text x="47.2" y="595.2" text-anchor="middle" textLength="16.6" lengthAdjust="spacing" style="font-size:2.6px;fill:#cfe0f5">İSTANBUL</text>
<text x="47.1" y="598.9" text-anchor="middle" textLength="22.9" lengthAdjust="spacingAndGlyphs" style="font-size:3.7px;font-weight:bold;fill:#fff;stroke:#fff;stroke-width:0.25">BÜYÜKŞEHİR</text>
<text x="47.2" y="601.8" text-anchor="middle" textLength="16.6" lengthAdjust="spacing" style="font-size:2.1px;fill:#7fb0e6">BELEDİYESİ</text>
<line x1="68.4" y1="579.4" x2="68.4" y2="599.8" stroke="#4f8fd8" stroke-width="0.9"/>
<g style="font-size:5.5px;font-weight:bold;fill:#fff;stroke:#fff;stroke-width:0.4">
<text x="77.9" y="585.9" textLength="21.1" lengthAdjust="spacingAndGlyphs">ULAŞIM</text>
<text x="77.9" y="591.4" textLength="21.6" lengthAdjust="spacingAndGlyphs">DAİRESİ</text>
<text x="77.9" y="596.9" textLength="34" lengthAdjust="spacingAndGlyphs">BAŞKANLIĞI</text>
</g>
<line x1="120.1" y1="579.4" x2="120.1" y2="599.8" stroke="#4f8fd8" stroke-width="0.9"/>
<rect x="129" y="583" width="14.3" height="14.5" fill="#3f86d6" opacity="0.55"/>
<g stroke="#7db4ee" stroke-width="0.8" fill="none">
 <path d="M129.3 586.5 L133 583 M129.3 589.5 L136 583 M129.3 592.5 L139 583 M129.5 595.3 L142 583 M131.5 596.4 L143 585.5 M135 596.4 L143 589 M138.5 596.4 L143 592.3"/>
 <path d="M129.3 597.3 L143.3 597.3"/>
</g>
<path d="M130.6 596 L136 586.6 L137.6 586.6 L143.2 597 L140.6 597 L138.8 593.6 L134.6 593.6 L132.8 596 Z M135.4 592.3 L138.2 592.3 L136.8 589.4 Z" fill="#f2f7fd" fill-rule="evenodd"/>
<g style="font-weight:bold;fill:#fff;stroke:#fff;stroke-width:0.6">
<text x="147.1" y="590.1" textLength="12.4" lengthAdjust="spacingAndGlyphs" style="font-size:6.7px">İBB</text>
<text x="147.1" y="597.5" textLength="29.5" lengthAdjust="spacingAndGlyphs" style="font-size:7.2px">ULAŞIM</text>
</g>
</g>
</g>

</svg></body></html>
